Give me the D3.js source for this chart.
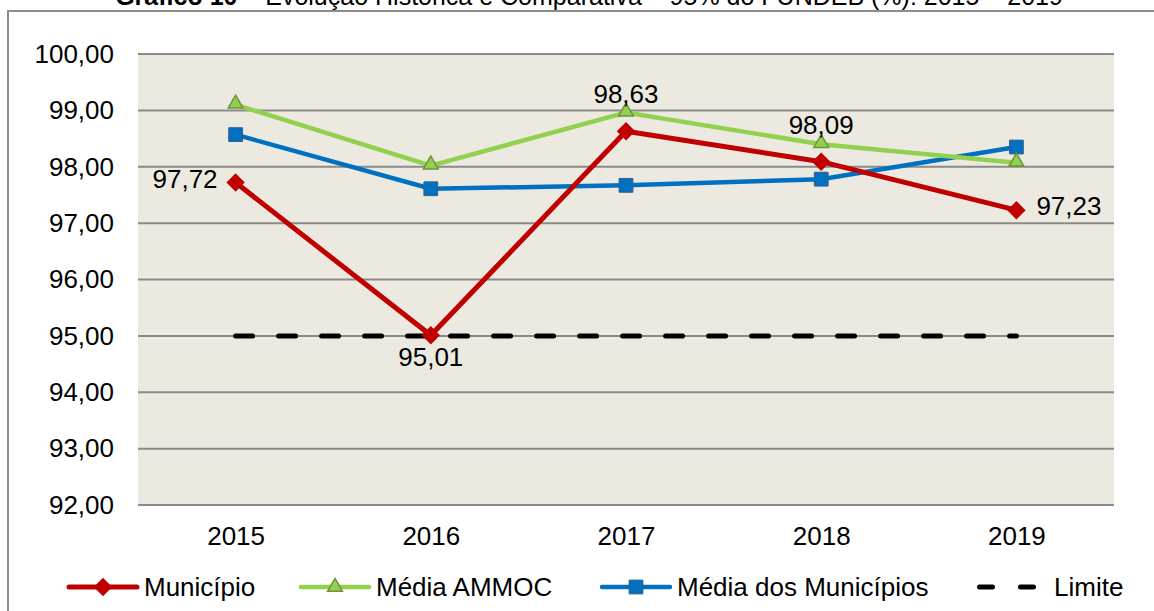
<!DOCTYPE html>
<html>
<head>
<meta charset="utf-8">
<script src="https://cdn.jsdelivr.net/npm/d3@7"></script>
<style>
  body { margin: 0; background: #fff; }
  svg { display: block; font-family: "Liberation Sans", Arial, sans-serif; }
</style>
</head>
<body>
<div id="chart"></div>
<script>
// data
var years = ["2015", "2016", "2017", "2018", "2019"];
var municipio = [97.72, 95.01, 98.63, 98.09, 97.23];
var mediaAmmoc = [99.10, 98.02, 98.96, 98.40, 98.07];
var mediaMunicipios = [98.57, 97.61, 97.67, 97.78, 98.35];
var limite = [95, 95, 95, 95, 95];
var yTicks = [92, 93, 94, 95, 96, 97, 98, 99, 100];
var labelPos = ["left", "below", "above", "above", "right"];

var W = 1154, H = 611;
var margin = {top: 54, right: 40, bottom: 106, left: 138},
    width = W - margin.left - margin.right,
    height = H - margin.top - margin.bottom;

var fmt = function(v) { return d3.format(".2f")(v).replace(".", ","); };

var svgRoot = d3.select("#chart").append("svg")
    .attr("width", W)
    .attr("height", H);

// outer frame (right and bottom edges fall outside the picture)
svgRoot.append("rect")
    .attr("x", 8).attr("y", 11)
    .attr("width", 1200).attr("height", 640)
    .attr("fill", "none")
    .attr("stroke", "#8c8c8c")
    .attr("stroke-width", 2);

// title (cut off at the top in the original)
var title = svgRoot.append("text")
    .attr("x", 589).attr("y", 5)
    .attr("text-anchor", "middle")
    .attr("font-size", 25)
    .attr("fill", "#000");
title.append("tspan").attr("font-weight", "bold").text("Gráfico 10");
title.append("tspan").text(" – Evolução Histórica e Comparativa – 95% do FUNDEB (%): 2015 – 2019");

var svg = svgRoot.append("g")
    .attr("transform", "translate(" + margin.left + "," + margin.top + ")");

var x = d3.scalePoint()
    .domain(years)
    .range([0, width])
    .padding(0.5);

var y = d3.scaleLinear()
    .domain([92, 100])
    .range([height, 0]);

// plot background
svg.append("rect")
    .attr("width", width)
    .attr("height", height)
    .attr("fill", "#ECEAE0");

// gridlines
svg.append("g")
  .selectAll("line")
  .data(yTicks)
  .enter().append("line")
    .attr("x1", 0).attr("x2", width)
    .attr("y1", function(d) { return y(d); })
    .attr("y2", function(d) { return y(d); })
    .attr("stroke", "#8a8a8a")
    .attr("stroke-width", 2);

// Y axis labels
var yAxis = svg.append("g")
    .call(d3.axisLeft(y).tickValues(yTicks).tickFormat(fmt).tickSize(0).tickPadding(24));
yAxis.select(".domain").remove();
yAxis.selectAll("text")
    .attr("font-size", 26)
    .attr("font-family", "Liberation Sans, Arial, sans-serif")
    .attr("fill", "#000");

// X axis labels
var xAxis = svg.append("g")
    .attr("transform", "translate(0," + height + ")")
    .call(d3.axisBottom(x).tickSize(0).tickPadding(22));
xAxis.select(".domain").remove();
xAxis.selectAll("text")
    .attr("font-size", 26)
    .attr("font-family", "Liberation Sans, Arial, sans-serif")
    .attr("fill", "#000");

var line = d3.line()
    .x(function(d, i) { return x(years[i]); })
    .y(function(d) { return y(d); });

// Limite dashed line
svg.append("path")
    .datum(limite)
    .attr("d", line)
    .attr("fill", "none")
    .attr("stroke", "#000")
    .attr("stroke-width", 5)
    .attr("stroke-linecap", "round")
    .attr("stroke-dasharray", "17,26");

var triangle = d3.symbol().type(d3.symbolTriangle).size(95);
var square = d3.symbol().type(d3.symbolSquare).size(190);
var diamond = d3.symbol().type(d3.symbolSquare).size(170);

// Média dos Municípios
svg.append("path")
    .datum(mediaMunicipios)
    .attr("d", line)
    .attr("fill", "none")
    .attr("stroke", "#0070C0")
    .attr("stroke-width", 4.5);

// Média AMMOC
svg.append("path")
    .datum(mediaAmmoc)
    .attr("d", line)
    .attr("fill", "none")
    .attr("stroke", "#92D050")
    .attr("stroke-width", 4.5);

// Município
svg.append("path")
    .datum(municipio)
    .attr("d", line)
    .attr("fill", "none")
    .attr("stroke", "#C00000")
    .attr("stroke-width", 5);

svg.selectAll(".mBlue")
    .data(mediaMunicipios)
    .enter().append("path")
    .attr("transform", function(d, i) { return "translate(" + x(years[i]) + "," + y(d) + ")"; })
    .attr("d", square)
    .attr("fill", "#0070C0")
    .attr("stroke", "#385D8A")
    .attr("stroke-width", 1);

svg.selectAll(".mGreen")
    .data(mediaAmmoc)
    .enter().append("path")
    .attr("transform", function(d, i) { return "translate(" + x(years[i]) + "," + (y(d) - 1) + ")"; })
    .attr("d", triangle)
    .attr("fill", "#92D050")
    .attr("stroke", "#71913B")
    .attr("stroke-width", 1.5);

svg.selectAll(".mRed")
    .data(municipio)
    .enter().append("path")
    .attr("transform", function(d, i) { return "translate(" + x(years[i]) + "," + y(d) + ") rotate(45)"; })
    .attr("d", diamond)
    .attr("fill", "#C00000");

// data labels for Município
svg.selectAll(".lbl")
    .data(municipio)
    .enter().append("text")
    .attr("x", function(d, i) {
      var p = labelPos[i];
      return x(years[i]) + (p === "left" ? -18 : p === "right" ? 20 : 0);
    })
    .attr("y", function(d, i) {
      var p = labelPos[i];
      return y(d) + (p === "above" ? -37 : p === "below" ? 22 : -4);
    })
    .attr("dy", "0.35em")
    .attr("text-anchor", function(d, i) {
      var p = labelPos[i];
      return p === "left" ? "end" : p === "right" ? "start" : "middle";
    })
    .attr("font-size", 26)
    .attr("fill", "#000")
    .text(fmt);

// legend
var legendItems = [
  {name: "Município", color: "#C00000", sym: diamond, x: 67, w: 5},
  {name: "Média AMMOC", color: "#92D050", sym: triangle, x: 299, w: 4.5},
  {name: "Média dos Municípios", color: "#0070C0", sym: square, x: 600, w: 4.5},
  {name: "Limite", color: "#000", sym: null, x: 977, w: 5}
];
var legend = svgRoot.append("g").attr("transform", "translate(0,587)");
legendItems.forEach(function(it) {
  var g = legend.append("g").attr("transform", "translate(" + it.x + ",0)");
  if (it.sym) {
    g.append("line")
      .attr("x1", 2).attr("x2", 70)
      .attr("stroke", it.color)
      .attr("stroke-width", it.w)
      .attr("stroke-linecap", "round");
    var m = g.append("path")
      .attr("transform", "translate(36,0)" + (it.name === "Município" ? " rotate(45)" : ""))
      .attr("d", it.sym)
      .attr("fill", it.color);
    if (it.name === "Média AMMOC") m.attr("stroke", "#71913B").attr("stroke-width", 1.5);
    if (it.name === "Média dos Municípios") m.attr("stroke", "#385D8A").attr("stroke-width", 1);
    g.append("text").attr("x", 77).attr("dy", "0.35em")
      .attr("font-size", 26).text(it.name);
  } else {
    g.append("line")
      .attr("x1", 2.5).attr("x2", 61)
      .attr("stroke", "#000")
      .attr("stroke-width", 5)
      .attr("stroke-linecap", "round")
      .attr("stroke-dasharray", "13,28");
    g.append("text").attr("x", 77).attr("dy", "0.35em")
      .attr("font-size", 26).text(it.name);
  }
});
</script>
</body>
</html>
